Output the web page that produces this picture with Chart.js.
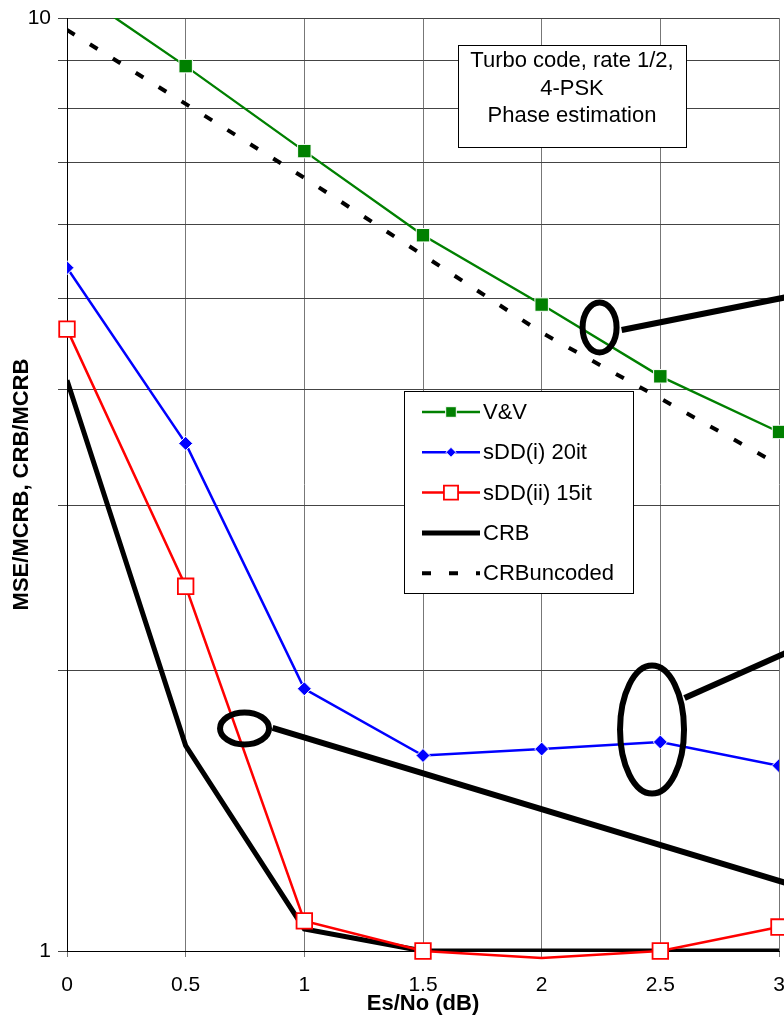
<!DOCTYPE html>
<html>
<head>
<meta charset="utf-8">
<script src="https://cdn.jsdelivr.net/npm/chart.js@4.4.1/dist/chart.umd.min.js"></script>
<style>
  html, body { margin: 0; padding: 0; background: #fff; }
</style>
</head>
<body>
<canvas id="grafico" width="784" height="1018"></canvas>
<script>
// datos
const esno = [0, 0.5, 1, 1.5, 2, 2.5, 3]
const vv = [10.85, 8.88, 7.20, 5.85, 4.93, 4.13, 3.60]
const sddI = [5.40, 3.50, 1.91, 1.62, 1.646, 1.675, 1.58]
const sddII = [4.64, 2.46, 1.077, 1.0, 0.983, 1.0, 1.061]
const crb = [4.09, 1.66, 1.056, 1.0, 1.0, 1.0, 1.0]
const crbUncoded = [9.71, 8.09, 6.74, 5.57, 4.60, 3.91, 3.32]
const yTickLabels = [1, 10]
const cajaTexto = ['Turbo code, rate 1/2,', '4-PSK', 'Phase estimation']

// elipses de anotacion (centro en unidades de datos, radios en px)
const elipses = [
  { x: 2.244, y: 4.66, rx: 17, ry: 25 },
  { x: 2.465, y: 1.727, rx: 32, ry: 64 },
  { x: 0.748, y: 1.732, rx: 24.5, ry: 16 }
]
const flechas = [
  { x1: 2.337, y1: 4.63, x2: 3.03, y2: 5.02 },
  { x1: 2.602, y1: 1.867, x2: 3.03, y2: 2.087 },
  { x1: 0.866, y1: 1.734, x2: 3.03, y2: 1.183 }
]

const FUENTE = 'Arial, "Liberation Sans", sans-serif'
const puntos = (vals) => esno.map((x, i) => ({ x: x, y: vals[i] }))

const dibujarMarca = (ctx, estilo, x, y, r, relleno, borde, ancho) => {
  ctx.beginPath()
  if (estilo === 'rectRot') {
    ctx.moveTo(x - r, y); ctx.lineTo(x, y - r); ctx.lineTo(x + r, y); ctx.lineTo(x, y + r); ctx.closePath()
  } else {
    const s = Math.SQRT1_2 * r
    ctx.rect(x - s, y - s, 2 * s, 2 * s)
  }
  ctx.fillStyle = relleno
  ctx.fill()
  if (ancho > 0) { ctx.lineWidth = ancho; ctx.strokeStyle = borde; ctx.stroke() }
}

const decoracion = {
  id: 'decoracion',
  afterDraw(chart) {
    const ctx = chart.ctx
    const xs = chart.scales.x, ys = chart.scales.y
    ctx.save()

    // elipses y lineas
    ctx.strokeStyle = '#000'
    ctx.lineWidth = 6
    elipses.forEach(e => {
      ctx.beginPath()
      ctx.ellipse(xs.getPixelForValue(e.x), ys.getPixelForValue(e.y), e.rx, e.ry, 0, 0, Math.PI * 2)
      ctx.stroke()
    })
    flechas.forEach(f => {
      ctx.beginPath()
      ctx.moveTo(xs.getPixelForValue(f.x1), ys.getPixelForValue(f.y1))
      ctx.lineTo(xs.getPixelForValue(f.x2), ys.getPixelForValue(f.y2))
      ctx.stroke()
    })

    // caja de texto
    ctx.fillStyle = '#fff'
    ctx.fillRect(458, 45, 228, 102)
    ctx.lineWidth = 1
    ctx.strokeStyle = '#000'
    ctx.strokeRect(458.5, 45.5, 228, 102)
    ctx.fillStyle = '#000'
    ctx.font = '22px ' + FUENTE
    ctx.textAlign = 'center'
    ctx.textBaseline = 'middle'
    cajaTexto.forEach((t, i) => ctx.fillText(t, 572, 61 + i * 27.5))

    // leyenda
    ctx.fillStyle = '#fff'
    ctx.fillRect(404, 391, 229, 202)
    ctx.strokeRect(404.5, 391.5, 229, 202)
    ctx.textAlign = 'left'
    chart.data.datasets.slice().sort((a, b) => a.pos - b.pos).forEach((ds, i) => {
      const y = 412 + i * 40.3
      ctx.beginPath()
      ctx.setLineDash(ds.borderDash || [])
      ctx.lineWidth = ds.borderWidth
      ctx.strokeStyle = ds.borderColor
      ctx.moveTo(422, y)
      ctx.lineTo(480, y)
      ctx.stroke()
      ctx.setLineDash([])
      if (ds.legendRadius) {
        dibujarMarca(ctx, ds.pointStyle, 451, y, ds.legendRadius, ds.pointBackgroundColor, ds.pointBorderColor, ds.pointBorderWidth)
      }
      ctx.fillStyle = '#000'
      ctx.fillText(ds.label, 483, y + 1)
    })
    ctx.restore()
  }
}

const ctx = document.getElementById('grafico')

const grafico = new Chart(ctx, {
  type: 'line',
  data: {
    datasets: [
      {
        label: 'sDD(ii) 15it', pos: 2, data: puntos(sddII),
        borderColor: '#ff0000', borderWidth: 2.5,
        pointStyle: 'rect', legendRadius: 10,
        // los marcadores fuera del rango del eje no se muestran
        pointRadius: (c) => (c.raw && c.raw.y < 1) ? 0 : 11,
        pointBackgroundColor: '#fff', pointBorderColor: '#ff0000', pointBorderWidth: 1.8,
        clip: { left: 12, right: 12, top: 0, bottom: 12 }
      },
      {
        label: 'sDD(i) 20it', pos: 1, data: puntos(sddI),
        borderColor: '#0000ff', borderWidth: 2.5,
        pointStyle: 'rectRot', pointRadius: 7, legendRadius: 5,
        pointBackgroundColor: '#0000ff', pointBorderColor: '#fff', pointBorderWidth: 1
      },
      {
        label: 'V&V', pos: 0, data: puntos(vv),
        borderColor: '#008000', borderWidth: 2.4,
        pointStyle: 'rect', pointRadius: 9.5, legendRadius: 7.5,
        pointBackgroundColor: '#008000', pointBorderColor: '#fff', pointBorderWidth: 1,
        clip: { left: 12, right: 12, top: 0, bottom: 12 }
      },
      {
        label: 'CRB', pos: 3, data: puntos(crb),
        borderColor: '#000', borderWidth: 5, pointRadius: 0
      },
      {
        label: 'CRBuncoded', pos: 4, data: puntos(crbUncoded),
        borderColor: '#000', borderWidth: 4, borderDash: [9, 18], pointRadius: 0,
        borderCapStyle: 'butt'
      }
    ]
  },
  options: {
    responsive: false,
    animation: false,
    devicePixelRatio: 1,
    layout: { autoPadding: false, padding: { top: 18, right: 5, left: 0, bottom: 0 } },
    elements: { line: { tension: 0 } },
    plugins: { legend: { display: false }, tooltip: { enabled: false } },
    scales: {
      x: {
        type: 'linear', min: 0, max: 3,
        ticks: {
          stepSize: 0.5, color: '#000', padding: 0,
          font: { family: FUENTE, size: 21, lineHeight: '56px' },
          callback: (v) => String(v)
        },
        grid: { color: '#777', tickLength: 6 },
        border: { color: '#000' },
        title: {
          display: true, text: 'Es/No (dB)', color: '#000',
          font: { family: FUENTE, size: 22, weight: 'bold' },
          padding: { top: 0, bottom: 1 }
        },
        afterFit: (s) => { s.height = 67; s.paddingRight = 5; s.paddingLeft = 0 }
      },
      y: {
        type: 'logarithmic', min: 1, max: 10,
        ticks: {
          autoSkip: false, color: '#000', padding: 7,
          font: { family: FUENTE, size: 21, lineHeight: 1 },
          callback: (v) => {
            if (!Number.isInteger(v)) return null
            return yTickLabels.includes(v) ? String(v) : ''
          }
        },
        grid: { color: '#444', tickLength: 9 },
        border: { color: '#000' },
        title: {
          display: true, text: 'MSE/MCRB, CRB/MCRB', color: '#000',
          font: { family: FUENTE, size: 22, weight: 'bold' },
          padding: { top: 9, bottom: 0 }
        },
        afterFit: (s) => { s.width = 67 }
      }
    }
  },
  plugins: [decoracion]
})
ctx.style.backgroundColor = 'white'
</script>
</body>
</html>
